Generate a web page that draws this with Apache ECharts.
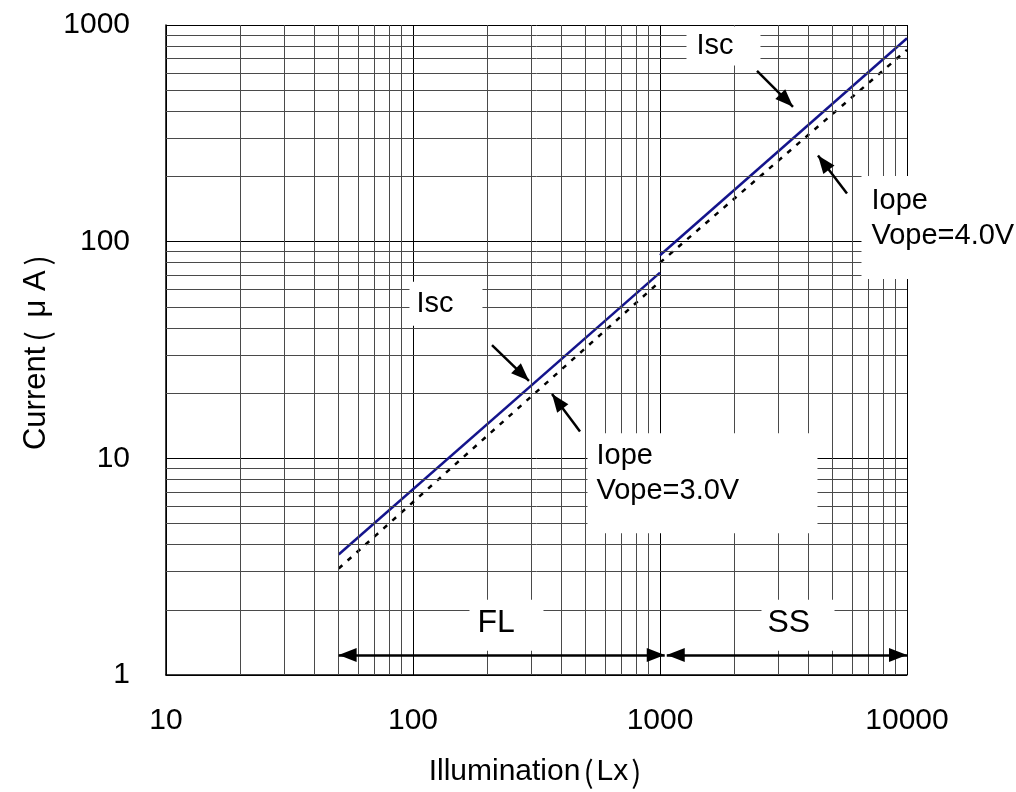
<!DOCTYPE html>
<html>
<head>
<meta charset="utf-8">
<script src="https://cdn.jsdelivr.net/npm/echarts@6/dist/echarts.min.js"></script>
<style>
html, body { margin: 0; padding: 0; background: #fff; }
#chart { width: 1016px; height: 792px; }
</style>
</head>
<body>
<div id="chart"></div>
<script>
// log-log: illumination (Lx) vs current (uA)
var xMinor = [20, 30, 40, 50, 60, 70, 80, 90,
              200, 300, 400, 500, 600, 700, 800, 900,
              2000, 3000, 4000, 5000, 6000, 7000, 8000, 9000];
var yMinor = [2, 3, 4, 5, 6, 7, 8, 9,
              20, 30, 40, 50, 60, 70, 80, 90,
              200, 300, 400, 500, 600, 700, 800, 900];

// Isc / Iope, FL range (Vope=3.0V) and SS range (Vope=4.0V)
var iscFL  = [[50, 3.6], [1000, 72]];
var iscSS  = [[1000, 86.6], [10000, 869]];
var iopeFL = [[50, 3.1], [1000, 65.5]];
var iopeSS = [[1000, 80], [10000, 768]];

// range arrows at the bottom
var rangeFL = [50, 1045];
var rangeSS = [1065, 10000];
var rangeLevel = 1.236;

var FONT = "'Liberation Sans', Arial, sans-serif";
var CJK = "'Noto Sans CJK JP', sans-serif";

// text boxes: top-left corner in data coords
var notes = [
  { at: [1286, 979],  text: 'Isc', pad: [0, 0, 0, 10], w: 64, lh: 39 },
  { at: [97.2, 65.0], text: 'Isc', pad: [0, 0, 0, 7], w: 66, lh: 44 },
  { at: [511, 12.99], text: 'Iope\nVope=3.0V', pad: [5, 0, 25, 9], w: 221, lh: 35 },
  { at: [6573, 199.8], text: 'Iope\nVope=4.0V', pad: [7, 0, 26, 10], w: 144, lh: 35 },
  { at: [170.1, 2.214], text: 'FL', pad: [5, 0, 10, 8], w: 66, lh: 36, size: 32 },
  { at: [2588, 2.214], text: 'SS', pad: [5, 0, 10, 6], w: 67, lh: 36, size: 32 }
];
// pointer arrows: tail -> tip
var pointers = [
  [[2470, 614], [3455, 419]],
  [[5715, 167], [4362, 250]],
  [[208.8, 33.3], [294.8, 22.8]],
  [[474.5, 13.3], [365.4, 19.8]]
];

var chart = echarts.init(document.getElementById('chart'));

var gridLines = [];
xMinor.forEach(function (v) { gridLines.push({ xAxis: v }); });
yMinor.forEach(function (v) { gridLines.push({ yAxis: v }); });

var noteData = notes.map(function (n) {
  return {
    coord: n.at,
    symbol: 'rect',
    symbolSize: 1,
    itemStyle: { color: 'rgba(0,0,0,0)' },
    label: {
      show: true,
      position: [0, 0],
      align: 'left',
      verticalAlign: 'top',
      formatter: n.text,
      fontSize: n.size || 29,
      fontFamily: FONT,
      color: '#000',
      lineHeight: n.lh,
      width: n.w,
      padding: n.pad,
      backgroundColor: '#fff'
    }
  };
});

var arrowData = pointers.map(function (p) {
  return [{ coord: p[0] }, { coord: p[1] }];
});
arrowData.push([{ coord: [rangeFL[0], rangeLevel], symbol: 'triangle' }, { coord: [rangeFL[1], rangeLevel] }]);
arrowData.push([{ coord: [rangeSS[0], rangeLevel], symbol: 'triangle' }, { coord: [rangeSS[1], rangeLevel] }]);

var option = {
  animation: false,
  backgroundColor: '#fff',
  grid: { left: 166, right: 109, top: 25, bottom: 115 },
  xAxis: {
    type: 'log',
    logBase: 10,
    min: 10,
    max: 10000,
    name: 'Illumination{c|(}Lx{c|)}',
    nameLocation: 'middle',
    nameGap: 82,
    nameTextStyle: { fontSize: 30, fontFamily: FONT, color: '#000', rich: { c: { fontSize: 30, fontFamily: CJK, padding: [0, 3, 0, 3] } } },
    axisLine: { show: true, lineStyle: { color: '#000', width: 1.5 } },
    axisTick: { show: false },
    axisLabel: { fontSize: 30, fontFamily: FONT, color: '#000', margin: 31,
      formatter: function (v) { return String(Math.round(v)); } },
    splitLine: { show: true, lineStyle: { color: '#000', width: 1 } }
  },
  yAxis: {
    type: 'log',
    logBase: 10,
    min: 1,
    max: 1000,
    name: 'Current{c|(} μ A{c|)}',
    nameLocation: 'middle',
    nameGap: 104,
    nameTextStyle: { fontSize: 31, fontFamily: FONT, color: '#000', rich: { c: { fontSize: 31, fontFamily: CJK, padding: [0, 5, 0, 5] } } },
    axisLine: { show: true, lineStyle: { color: '#000', width: 1.5 } },
    axisTick: { show: false },
    axisLabel: { fontSize: 30, fontFamily: FONT, color: '#000', margin: 36,
      formatter: function (v) { return String(Math.round(v)); } },
    splitLine: { show: true, lineStyle: { color: '#000', width: 1 } }
  },
  series: [
    {
      name: 'grid',
      type: 'line',
      data: [],
      z: 1,
      silent: true,
      markLine: {
        silent: true,
        symbol: ['none', 'none'],
        label: { show: false },
        lineStyle: { color: '#4a4a4a', width: 1, type: 'solid' },
        data: gridLines
      }
    },
    { name: 'Isc FL', type: 'line', data: iscFL, z: 3, showSymbol: false, symbol: 'none',
      lineStyle: { color: '#14148c', width: 2.5 } },
    { name: 'Isc SS', type: 'line', data: iscSS, z: 3, showSymbol: false, symbol: 'none',
      lineStyle: { color: '#14148c', width: 2.5 } },
    { name: 'Iope FL', type: 'line', data: iopeFL, z: 3, showSymbol: false, symbol: 'none',
      lineStyle: { color: '#000', width: 2.5, type: [5, 7] } },
    { name: 'Iope SS', type: 'line', data: iopeSS, z: 3, showSymbol: false, symbol: 'none',
      lineStyle: { color: '#000', width: 2.5, type: [5, 7] } },
    {
      name: 'notes',
      type: 'line',
      data: [],
      z: 10,
      clip: false,
      silent: true,
      markPoint: { silent: true, data: noteData },
      markLine: {
        silent: true,
        symbol: ['none', 'triangle'],
        symbolSize: [14, 18],
        symbolOffset: [[0, 9], [0, 9]],
        label: { show: false },
        lineStyle: { color: '#000', width: 2.5, type: 'solid' },
        data: arrowData
      }
    }
  ]
};

chart.setOption(option);
</script>
</body>
</html>
